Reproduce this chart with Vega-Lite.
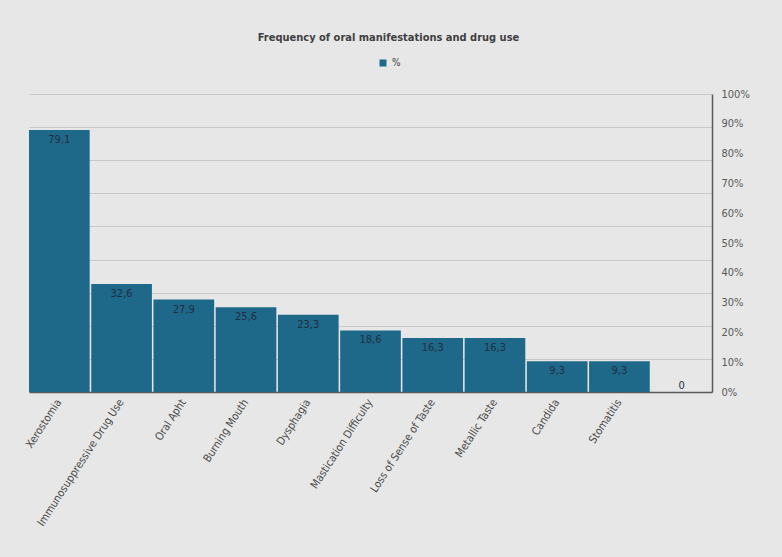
{
  "$schema": "https://vega.github.io/schema/vega-lite/v6.json",
  "width": 683,
  "height": 298,
  "autosize": {"type": "none"},
  "padding": {"left": 29, "top": 94, "right": 70, "bottom": 165},
  "background": "#e7e7e7",
  "title": {
    "text": "Frequency of oral manifestations and drug use",
    "font": "DejaVu Sans Condensed, sans-serif",
    "fontSize": 11,
    "fontWeight": "bold",
    "color": "#404040",
    "anchor": "middle",
    "dx": 18,
    "offset": 15
  },
  "data": {
    "values": [
      {"condition": "Xerostomia", "value": 79.1},
      {"condition": "Immunosuppressive Drug Use", "value": 32.6},
      {"condition": "Oral Apht", "value": 27.9},
      {"condition": "Burning Mouth", "value": 25.6},
      {"condition": "Dysphagia", "value": 23.3},
      {"condition": "Mastication Difficulty", "value": 18.6},
      {"condition": "Loss of Sense of Taste", "value": 16.3},
      {"condition": "Metallic Taste", "value": 16.3},
      {"condition": "Candida", "value": 9.3},
      {"condition": "Stomatitis", "value": 9.3},
      {"condition": "", "value": 0}
    ]
  },
  "encoding": {
    "x": {
      "field": "condition",
      "type": "nominal",
      "sort": null,
      "scale": {"paddingInner": 0.025, "paddingOuter": 0},
      "axis": {
        "title": null,
        "ticks": false,
        "domainColor": "#595959",
        "domainWidth": 1.5,
        "labelAngle": -57,
        "labelAlign": "right",
        "labelBaseline": "middle",
        "labelPadding": 8,
        "labelFont": "DejaVu Sans Condensed, sans-serif",
        "labelFontSize": 11,
        "labelColor": "#4a4a4a",
        "labelLimit": 300
      }
    }
  },
  "layer": [
    {
      "encoding": {
        "y": {
          "field": "value",
          "type": "quantitative",
          "scale": {"domain": [0, 90], "nice": false},
          "axis": {
            "orient": "left",
            "title": null,
            "labels": false,
            "ticks": false,
            "domain": false,
            "grid": true,
            "gridColor": "#c8c8c8",
            "gridWidth": 1,
            "values": [0, 10, 20, 30, 40, 50, 60, 70, 80, 90]
          }
        }
      },
      "layer": [
        {
          "mark": {"type": "bar"},
          "encoding": {
            "color": {
              "datum": "%",
              "scale": {"range": ["#1e6889"]},
              "legend": {
                "title": null,
                "orient": "none",
                "legendX": 349,
                "legendY": -36,
                "symbolType": "square",
                "symbolSize": 49,
                "symbolStrokeWidth": 0,
                "labelFont": "DejaVu Sans Condensed, sans-serif",
                "labelFontSize": 10,
                "labelColor": "#404040"
              }
            }
          }
        },
        {
          "transform": [{"filter": "datum.value > 0"}],
          "mark": {
            "type": "text",
            "baseline": "top",
            "dy": 4,
            "font": "DejaVu Sans Condensed, sans-serif",
            "fontSize": 11,
            "color": "#1f2f40"
          },
          "encoding": {
            "text": {"field": "value", "type": "quantitative", "format": ".1~f"}
          }
        },
        {
          "transform": [{"filter": "datum.value == 0"}],
          "mark": {
            "type": "text",
            "baseline": "bottom",
            "dy": -1,
            "font": "DejaVu Sans Condensed, sans-serif",
            "fontSize": 11,
            "color": "#1f2f40"
          },
          "encoding": {
            "text": {"field": "value", "type": "quantitative", "format": ".1~f"}
          }
        }
      ]
    },
    {
      "mark": {"type": "point", "opacity": 0},
      "encoding": {
        "y": {
          "field": "value",
          "type": "quantitative",
          "scale": {"domain": [0, 100], "nice": false},
          "axis": {
            "orient": "right",
            "title": null,
            "ticks": false,
            "grid": false,
            "domain": true,
            "domainColor": "#595959",
            "domainWidth": 1.5,
            "values": [0, 10, 20, 30, 40, 50, 60, 70, 80, 90, 100],
            "labelExpr": "datum.value + '%'",
            "labelPadding": 9,
            "labelFont": "DejaVu Sans Condensed, sans-serif",
            "labelFontSize": 11,
            "labelColor": "#595959"
          }
        }
      }
    }
  ],
  "resolve": {"scale": {"y": "independent"}},
  "config": {
    "view": {"stroke": null},
    "locale": {
      "number": {"decimal": ",", "thousands": ".", "grouping": [3], "currency": ["", " €"]}
    }
  }
}
